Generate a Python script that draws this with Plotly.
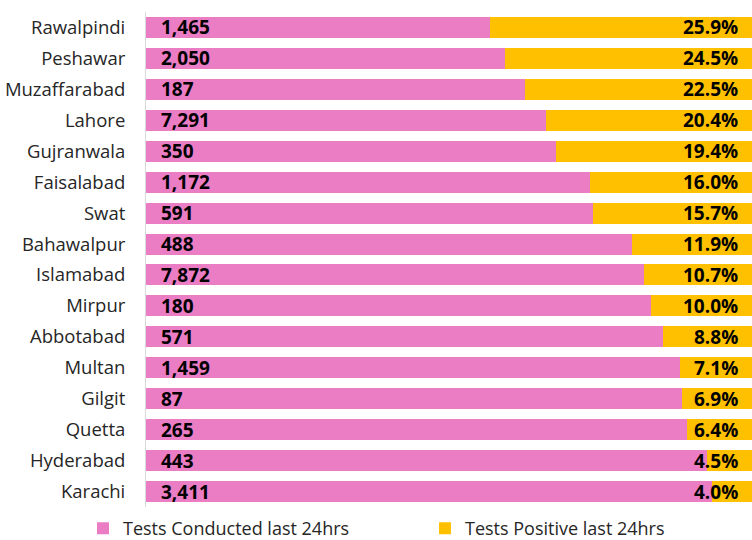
import plotly.graph_objects as go

cities = ["Rawalpindi", "Peshawar", "Muzaffarabad", "Lahore", "Gujranwala", "Faisalabad",
          "Swat", "Bahawalpur", "Islamabad", "Mirpur", "Abbotabad", "Multan", "Gilgit",
          "Quetta", "Hyderabad", "Karachi"]
tests_conducted = [1465, 2050, 187, 7291, 350, 1172, 591, 488, 7872, 180, 571, 1459, 87,
                   265, 443, 3411]
positive_pct = [25.9, 24.5, 22.5, 20.4, 19.4, 16.0, 15.7, 11.9, 10.7, 10.0, 8.8, 7.1, 6.9,
                6.4, 4.5, 4.0]

PINK = "#EB7DC5"
GOLD = "#FFC000"
FONT = "Open Sans"
X_MIN, X_MAX = 40, 100

negative_share = [100 - p for p in positive_pct]

fig = go.Figure()
fig.add_trace(go.Bar(
    y=cities, x=negative_share, orientation="h", name="Tests Conducted last 24hrs",
    marker=dict(color=PINK, line=dict(width=0)), hoverinfo="skip", legend="legend",
))
fig.add_trace(go.Bar(
    y=cities, x=positive_pct, orientation="h", name="Tests Positive last 24hrs",
    marker=dict(color=GOLD, line=dict(width=0)), hoverinfo="skip", legend="legend2",
))

annotations = []
for c, t in zip(cities, tests_conducted):
    annotations.append(dict(
        x=X_MIN, y=c, xref="x", yref="y", text=f"<b>{t:,}</b>", showarrow=False,
        xanchor="left", yanchor="middle", xshift=13,
        font=dict(family=FONT, size=19, color="#000000"),
    ))
for c, p in zip(cities, positive_pct):
    annotations.append(dict(
        x=X_MAX, y=c, xref="x", yref="y", text=f"<b>{p:.1f}%</b>", showarrow=False,
        xanchor="right", yanchor="middle", xshift=-12,
        font=dict(family=FONT, size=19, color="#000000"),
    ))

legend_common = dict(orientation="h", xref="container", yref="container",
                     y=0.021, xanchor="left", yanchor="middle",
                     font=dict(family=FONT, size=18, color="#262626"),
                     bgcolor="rgba(0,0,0,0)", borderwidth=0)

fig.update_layout(
    width=752, height=540,
    margin=dict(l=146, r=0, t=12, b=33, autoexpand=False),
    barmode="stack", bargap=0.32,
    plot_bgcolor="white", paper_bgcolor="white",
    font=dict(family=FONT, size=18.5, color="#262626"),
    xaxis=dict(range=[X_MIN, X_MAX], visible=False, fixedrange=True, automargin=False),
    yaxis=dict(autorange="reversed", showline=True, linecolor="#D9D9D9", linewidth=1,
               ticks="", ticklabelstandoff=16, showgrid=False, automargin=False,
               fixedrange=True,
               tickfont=dict(family=FONT, size=18.5, color="#262626")),
    legend=dict(x=83 / 752, **legend_common),
    legend2=dict(x=425 / 752, **legend_common),
    annotations=annotations,
    showlegend=True,
)

fig.write_html("out.html", config={"displayModeBar": False},
               post_script="document.body.style.margin='0';")
